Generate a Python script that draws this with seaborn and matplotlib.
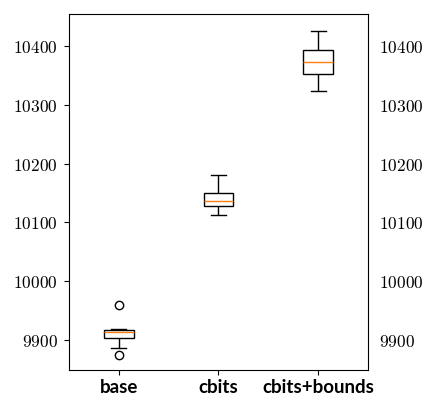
import pandas as pd
import seaborn as sns
import matplotlib.pyplot as plt
from matplotlib.ticker import FuncFormatter

# Sample values (per configuration)
base = [9875, 9886, 9904, 9908, 9913, 9915, 9917, 9918, 9960]
cbits = [10113, 10127, 10136, 10150, 10181]
cbits_bounds = [10324, 10352, 10373, 10393, 10426]
categories = ['base', 'cbits', 'cbits+bounds']
yticks = [9900, 10000, 10100, 10200, 10300, 10400]

plt.rcParams['mathtext.fontset'] = 'cm'

df = pd.DataFrame({
    'config': ['base'] * len(base) + ['cbits'] * len(cbits) + ['cbits+bounds'] * len(cbits_bounds),
    'value': base + cbits + cbits_bounds,
})

fig = plt.figure(figsize=(4.28, 4.03), dpi=100)
ax = fig.add_axes([0.161, 0.082, 0.699, 0.883])

sns.boxplot(data=df, x='config', y='value', order=categories, ax=ax,
            width=0.3, color='white', linecolor='black', linewidth=1,
            medianprops=dict(color='#ff7f0e', linewidth=1),
            flierprops=dict(marker='o', markersize=6, markerfacecolor='none',
                            markeredgecolor='black', markeredgewidth=1))

ax.set_xlim(-0.5, 2.5)
ax.set_ylim(9849, 10454)
ax.set_yticks(yticks)
ax.yaxis.set_major_formatter(FuncFormatter(lambda v, p: f'${v:.0f}$'))
ax.tick_params(axis='y', labelsize=12.5, labelright=True, right=False, pad=4.5)
ax.tick_params(axis='x', pad=3)
for lab in ax.get_xticklabels():
    lab.set_fontfamily('Lato')
    lab.set_fontweight('bold')
    lab.set_fontsize(13.5)
ax.set_xlabel('')
ax.set_ylabel('')
for s in ax.spines.values():
    s.set_visible(True)
    s.set_color('black')

plt.savefig('out.png', dpi=100)
